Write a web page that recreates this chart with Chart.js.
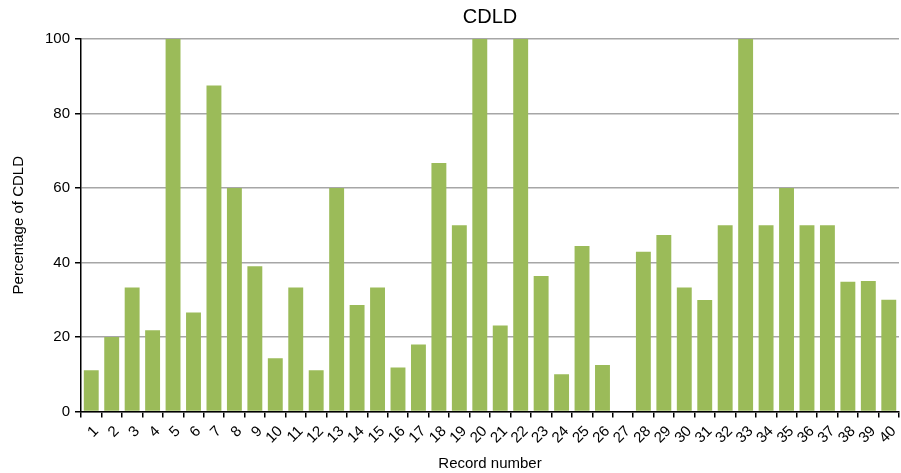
<!DOCTYPE html>
<html>
<head>
<meta charset="utf-8">
<script src="https://cdn.jsdelivr.net/npm/chart.js@4"></script>
<style>
  html, body { margin: 0; padding: 0; background: #fff; }
  #wrap { width: 901px; height: 473px; }
</style>
</head>
<body>
<div id="wrap"><canvas id="mychart"></canvas></div>
<script>
// record numbers 1..40
var records = ['1','2','3','4','5','6','7','8','9','10','11','12','13','14','15','16','17','18','19','20',
               '21','22','23','24','25','26','27','28','29','30','31','32','33','34','35','36','37','38','39','40'];
// percentage of CDLD per record
var cdldPct = [11.1, 20, 33.3, 21.8, 100, 26.6, 87.5, 60, 39, 14.3,
               33.3, 11.1, 60, 28.6, 33.3, 11.8, 18, 66.7, 50, 100,
               23.1, 100, 36.4, 10, 44.4, 12.5, 0, 42.9, 47.4, 33.3,
               29.9, 50, 100, 50, 60, 50, 50, 34.8, 35, 30];
var yTicks = [0, 20, 40, 60, 80, 100];
var chartTitle = 'CDLD';

Chart.defaults.font.family = '"Liberation Sans", Arial, sans-serif';
Chart.defaults.color = '#000';

// title centred over the plot area, not the whole canvas
var centreTitle = {
    id: 'centreTitle',
    afterDraw: function (chart) {
        var c = chart.ctx, a = chart.chartArea;
        c.save();
        c.font = '20px "Liberation Sans", Arial, sans-serif';
        c.fillStyle = '#000';
        c.textAlign = 'center';
        c.textBaseline = 'middle';
        c.fillText(chartTitle, (a.left + a.right) / 2, 17);
        c.restore();
    }
};

const ctr = document.getElementById('mychart');

new Chart(ctr, {
    type: 'bar',
    data: {
        labels: records,
        datasets: [{
            label: chartTitle,
            data: cdldPct,
            backgroundColor: '#9bbb59',
            borderWidth: 0,
            barPercentage: 0.9,
            categoryPercentage: 0.81
        }]
    },
    options: {
        responsive: true,
        maintainAspectRatio: false,
        animation: false,
        layout: { padding: { left: 10, right: 2, top: 39, bottom: 0 } },
        plugins: {
            legend: { display: false },
            tooltip: { enabled: false },
            title: { display: false }
        },
        scales: {
            x: {
                offset: true,
                afterFit: function (scale) {
                    // rotated labels sit inside the last category, no extra room needed
                    scale.paddingRight = 0;
                    scale.paddingLeft = 0;
                },
                border: { color: '#000', width: 1.5 },
                grid: {
                    drawOnChartArea: false,
                    drawTicks: true,
                    tickLength: 6,
                    color: '#000',
                    lineWidth: 1.5
                },
                ticks: {
                    autoSkip: false,
                    maxRotation: 45,
                    minRotation: 45,
                    font: { size: 15 },
                    padding: 5,
                    labelOffset: 5
                },
                title: {
                    display: true,
                    text: 'Record number',
                    font: { size: 15 },
                    padding: { top: 3, bottom: 0 }
                }
            },
            y: {
                min: 0,
                max: 100,
                afterBuildTicks: function (axis) {
                    axis.ticks = yTicks.map(function (v) { return { value: v }; });
                },
                border: { color: '#000', width: 1.5 },
                grid: {
                    color: '#a6a6a6',
                    lineWidth: 1.5,
                    tickLength: 6,
                    tickColor: '#000'
                },
                ticks: {
                    font: { size: 15 },
                    padding: 5
                },
                title: {
                    display: true,
                    text: 'Percentage of CDLD',
                    font: { size: 15 },
                    padding: { top: 0, bottom: 12 }
                }
            }
        }
    },
    plugins: [centreTitle]
});
</script>
</body>
</html>
